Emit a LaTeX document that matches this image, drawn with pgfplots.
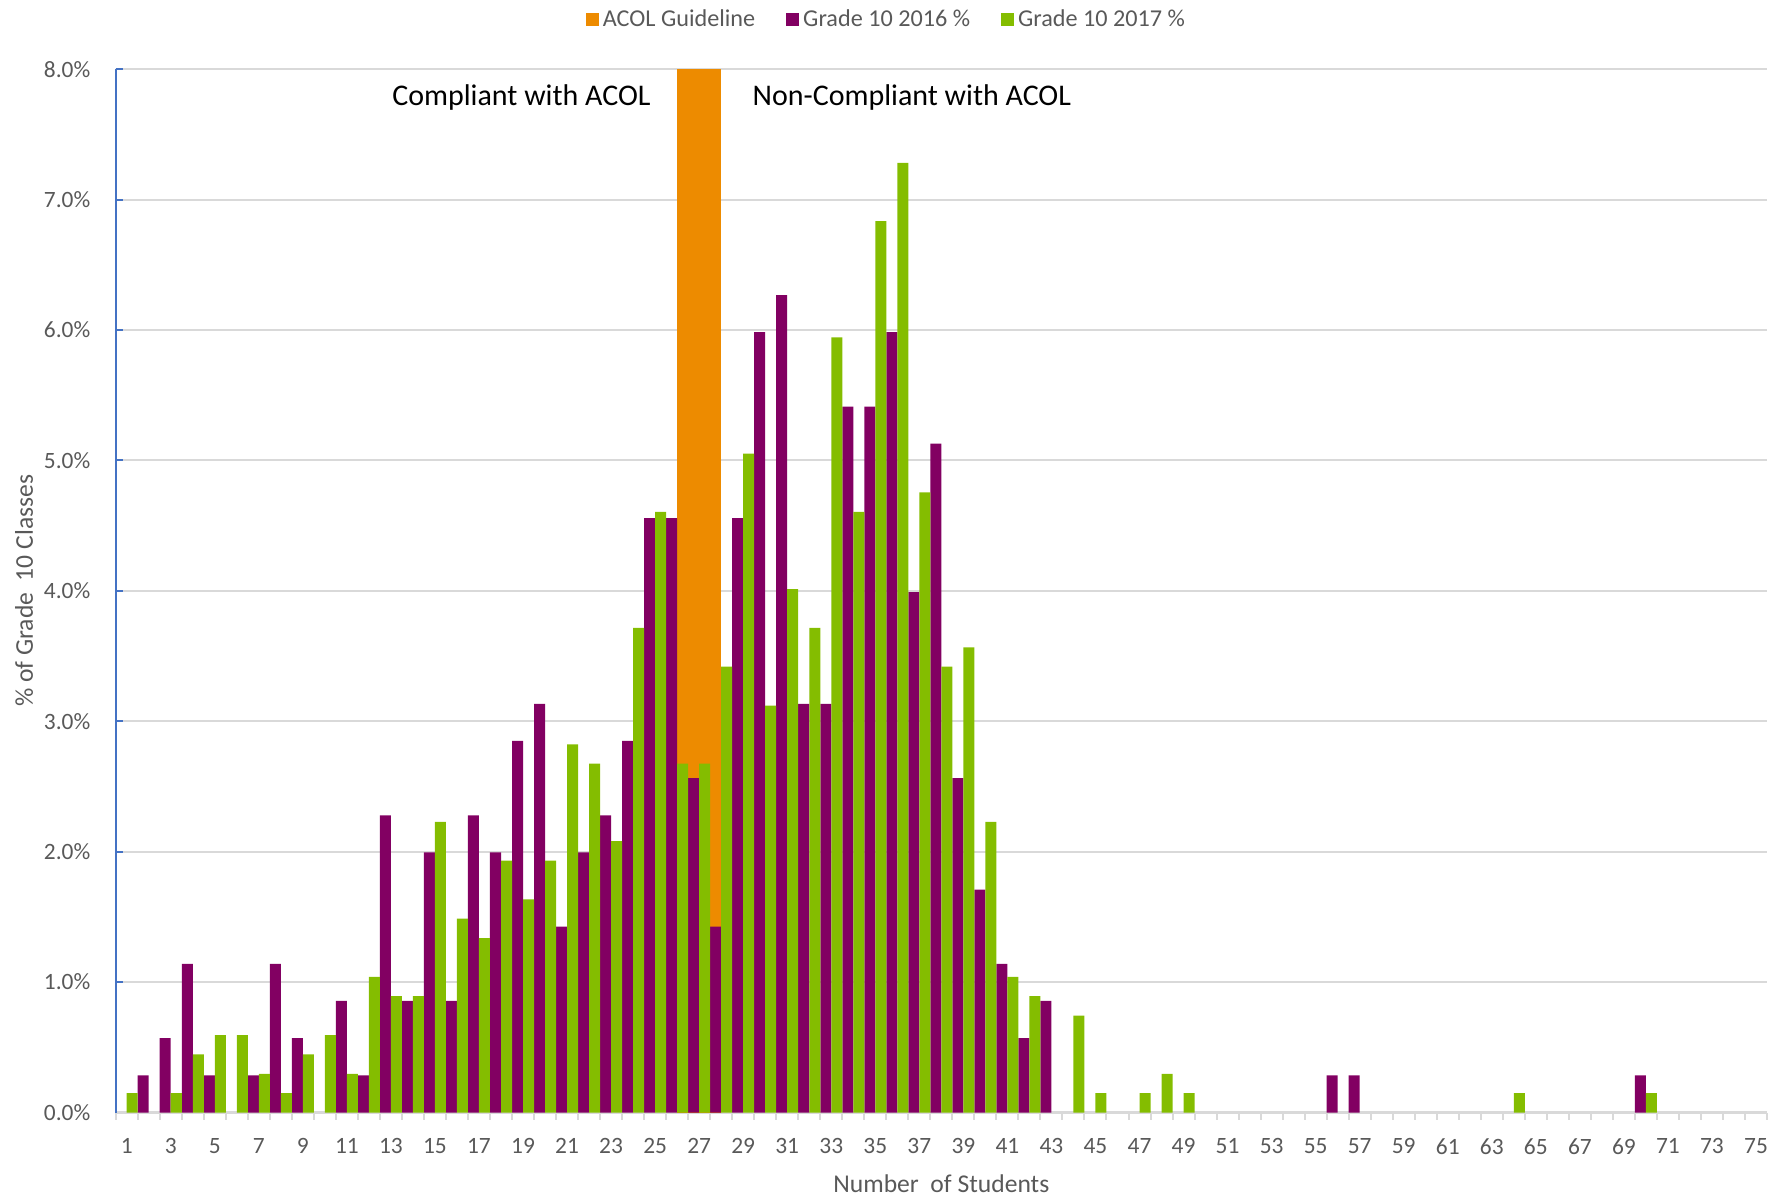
\documentclass[border=0pt]{standalone}
\usepackage{fontspec}
\setmainfont{Carlito}
\usepackage{pgfplots}
\pgfplotsset{compat=1.18}
\definecolor{acol}{RGB}{237,139,0}
\definecolor{p16}{RGB}{130,0,98}
\definecolor{g17}{RGB}{132,189,0}
\definecolor{gridgray}{RGB}{217,217,217}
\definecolor{axblue}{RGB}{68,114,196}
\definecolor{lblgray}{RGB}{89,89,89}
\begin{document}
\begin{tikzpicture}
\useasboundingbox (-57.85pt,-44.25pt) rectangle (835.15pt,556.25pt);
\begin{axis}[
  at={(0pt,0pt)}, anchor=south west,
  scale only axis, width=825.65pt, height=521.7pt,
  xmin=0.5, xmax=75.5, ymin=0, ymax=8,
  axis x line*=bottom, axis y line*=left,
  x axis line style={draw=gridgray, line width=1.2pt},
  y axis line style={draw=axblue, line width=1pt},
  xtick={1,3,...,75},
  xtick style={draw=none},
  extra x ticks={0.5,1.5,...,75.5},
  extra x tick labels={},
  extra x tick style={grid=none, tick align=outside, xtick style={draw=gridgray, line width=1pt}},
  ytick={0,1,...,8},
  ytick style={draw=axblue, line width=1pt},
  major tick length=3.5pt,
  ymajorgrids, grid style={draw=gridgray, line width=1pt},
  /pgf/number format/assume math mode=true,
  yticklabel={\pgfmathprintnumber[fixed,fixed zerofill,precision=1]{\tick}\%},
  tick label style={font=\fontsize{11.7}{13}\selectfont, text=lblgray},
  yticklabel style={anchor=east, inner sep=0pt, xshift=-12.5pt},
  xticklabel style={anchor=north, inner sep=0pt, yshift=-12.75pt},
  xlabel={Number\ \ of Students},
  ylabel={\% of Grade\ \ 10 Classes},
  label style={font=\fontsize{12.8}{14}\selectfont, text=lblgray},
  xlabel style={at={(axis description cs:0.5,-0.0685)}, anchor=center},
  ylabel style={at={(axis description cs:-0.0555,0.5)}, anchor=center},
  legend style={draw=none, fill=none, legend columns=3,
    at={(0.4674,1.0475)}, anchor=center,
    font=\fontsize{12.1}{13.5}\selectfont, text=lblgray,
    /tikz/every even column/.append style={column sep=13.6pt}},
  legend cell align=left,
]
\addplot[ybar, bar width=2, bar shift=0, fill=acol, draw=none,
  legend image code/.code={\fill[acol] (0pt,-3.2pt) rectangle (6.4pt,3.2pt);}]
  coordinates {(27,8)};
\addlegendentry{ACOL Guideline}
\addplot[ybar, bar width=0.5, bar shift=-0.25, fill=p16, draw=none,
  legend image code/.code={\fill[p16] (0pt,-3.2pt) rectangle (6.4pt,3.2pt);}]
  coordinates {(2,0.285) (3,0.570) (4,1.140) (5,0.285) (7,0.285) (8,1.140) (9,0.570) (11,0.855) (12,0.285) (13,2.279) (14,0.855) (15,1.994) (16,0.855) (17,2.279) (18,1.994) (19,2.849) (20,3.134) (21,1.425) (22,1.994) (23,2.279) (24,2.849) (25,4.558) (26,4.558) (27,2.564) (28,1.425) (29,4.558) (30,5.983) (31,6.268) (32,3.134) (33,3.134) (34,5.413) (35,5.413) (36,5.983) (37,3.989) (38,5.128) (39,2.564) (40,1.709) (41,1.140) (42,0.570) (43,0.855) (56,0.285) (57,0.285) (70,0.285)};
\addlegendentry{Grade 10 2016 \%}
\addplot[ybar, bar width=0.5, bar shift=0.25, fill=g17, draw=none,
  legend image code/.code={\fill[g17] (0pt,-3.2pt) rectangle (6.4pt,3.2pt);}]
  coordinates {(1,0.149) (3,0.149) (4,0.446) (5,0.594) (6,0.594) (7,0.297) (8,0.149) (9,0.446) (10,0.594) (11,0.297) (12,1.040) (13,0.892) (14,0.892) (15,2.229) (16,1.486) (17,1.337) (18,1.932) (19,1.634) (20,1.932) (21,2.823) (22,2.675) (23,2.080) (24,3.715) (25,4.606) (26,2.675) (27,2.675) (28,3.418) (29,5.052) (30,3.120) (31,4.012) (32,3.715) (33,5.944) (34,4.606) (35,6.835) (36,7.281) (37,4.755) (38,3.418) (39,3.566) (40,2.229) (41,1.040) (42,0.892) (44,0.743) (45,0.149) (47,0.149) (48,0.297) (49,0.149) (64,0.149) (70,0.149)};
\addlegendentry{Grade 10 2017 \%}
\node[anchor=base, font=\fontsize{15}{17}\selectfont] at (axis cs:18.93,7.72) {Compliant with ACOL};
\node[anchor=base, font=\fontsize{15}{17}\selectfont] at (axis cs:36.66,7.72) {Non-Compliant with ACOL};
\end{axis}
\end{tikzpicture}
\end{document}
